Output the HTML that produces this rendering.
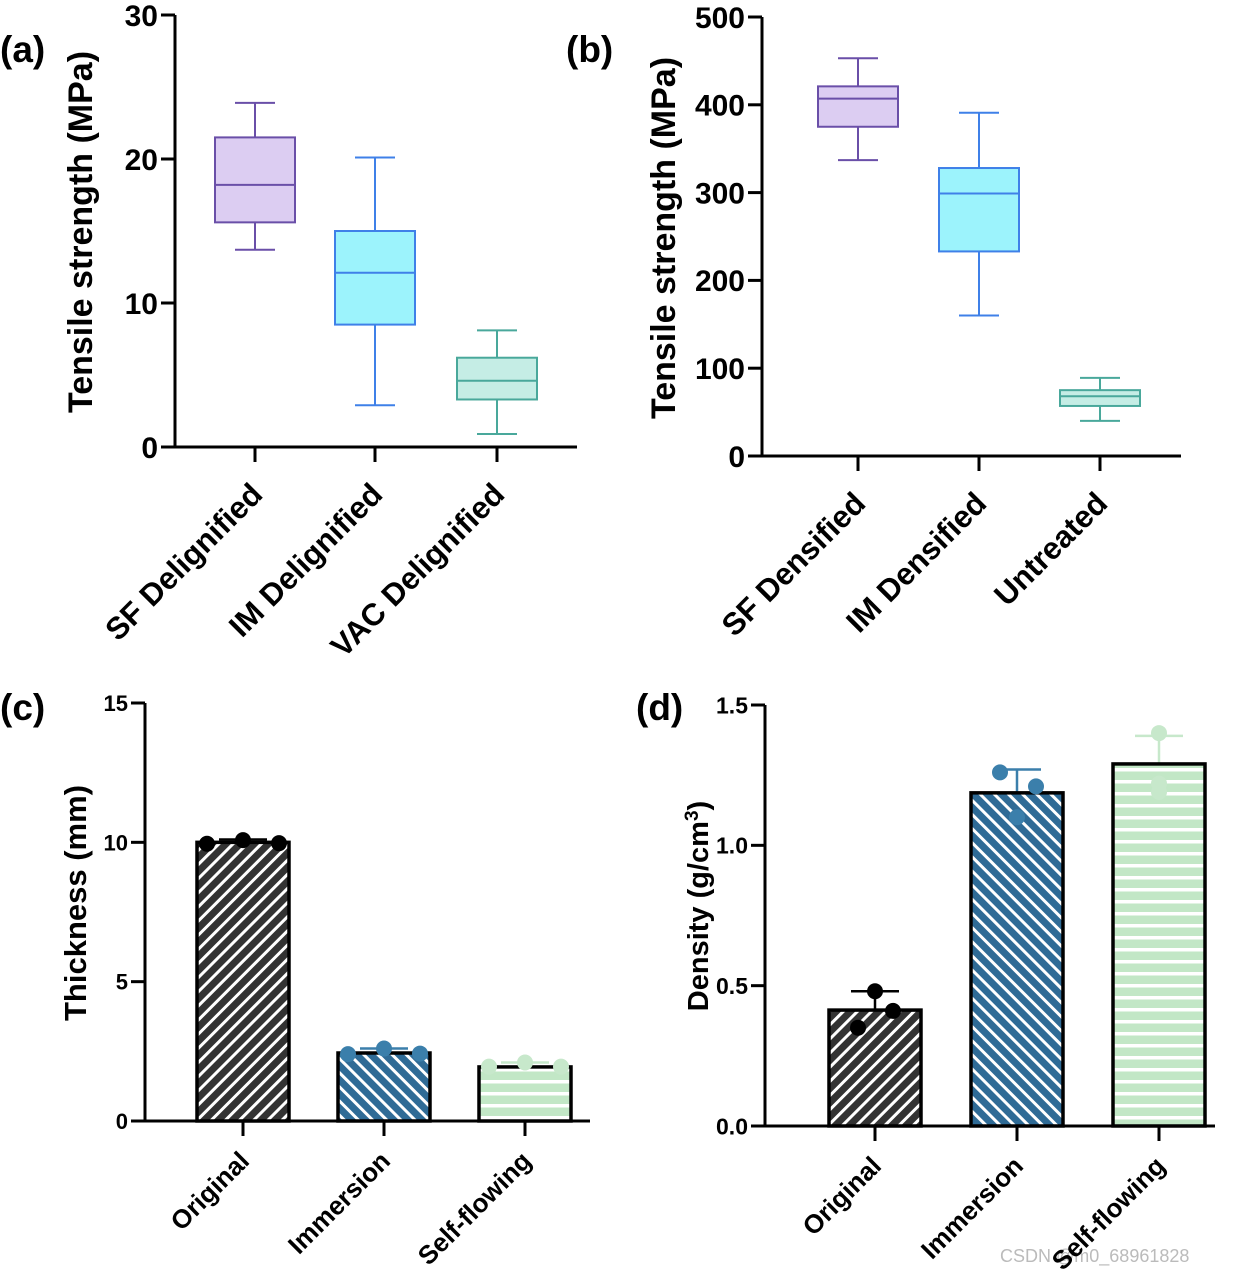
<!DOCTYPE html>
<html><head><meta charset="utf-8"><style>
body{margin:0;background:#fff}
svg{display:block;font-family:"Liberation Sans",Arial,sans-serif;font-weight:bold}
</style></head><body>
<svg id="s" width="1258" height="1278" viewBox="0 0 1258 1278" xmlns="http://www.w3.org/2000/svg">
<defs>
<pattern id="pO" patternUnits="userSpaceOnUse" width="10" height="10" patternTransform="rotate(45)"><rect width="10" height="10" fill="#333"/><rect x="0" width="3" height="10" fill="#fff"/></pattern>
<pattern id="pI" patternUnits="userSpaceOnUse" width="10" height="10" patternTransform="rotate(-45)"><rect width="10" height="10" fill="#2f6b96"/><rect x="0" width="3" height="10" fill="#fff"/></pattern>
<pattern id="pS" patternUnits="userSpaceOnUse" width="10" height="12"><rect width="10" height="12" fill="#c2e7c6"/><rect y="0" width="10" height="3.5" fill="#fff"/></pattern>
</defs>
<text x="0" y="62" font-size="37">(a)</text>
<text x="566" y="62" font-size="37">(b)</text>
<text x="0" y="720" font-size="37">(c)</text>
<text x="636" y="720" font-size="37">(d)</text>
<text x="1000" y="1262" font-size="18" font-weight="normal" fill="#bbb">CSDN @m0_68961828</text>
</svg>
<script>
const NS="http://www.w3.org/2000/svg";
const svg=document.getElementById('s');
function el(t,a,p){const e=document.createElementNS(NS,t);for(const k in a)e.setAttribute(k,a[k]);(p||svg).appendChild(e);return e;}

// Panel a data
const catsA=["SF Delignified","IM Delignified","VAC Delignified"];
const minA=[13.7,2.9,0.9], q1A=[15.6,8.5,3.3], medA=[18.2,12.1,4.6], q3A=[21.5,15.0,6.2], maxA=[23.9,20.1,8.1];
const ticksA=[0,10,20,30];
// Panel b data
const catsB=["SF Densified","IM Densified","Untreated"];
const minB=[337,160,40], q1B=[375,233,57], medB=[407,299,68], q3B=[421,328,75], maxB=[453,391,89];
const ticksB=[0,100,200,300,400,500];
// Panel c data
const catsC=["Original","Immersion","Self-flowing"];
const meanC=[10.0,2.44,1.94], errC=[10.1,2.6,2.1];
const ptsC=[[9.95,10.08,9.97],[2.4,2.6,2.42],[1.95,2.1,1.95]];
const ticksC=[0,5,10,15];
// Panel d data
const catsD=["Original","Immersion","Self-flowing"];
const meanD=[0.413,1.187,1.29], errD=[0.48,1.27,1.39];
const ptsD=[[0.48,0.35,0.41],[1.26,1.10,1.21],[1.40,1.22,1.19]];
const ticksD=[0,0.5,1.0,1.5];

const jitC=[[-36,0,36],[-36,0,36],[-36,0,36]];
const jitD=[[0,-17,18],[-17,0,19],[0,0,0]];

const boxFill=["#dccdf2","#9cf3fc","#c5ede5"], boxStroke=["#6a4fa8","#3f80e8","#49a89b"];
const barFill=["url(#pO)","url(#pI)","url(#pS)"], ptCol=["#000","#3b7fab","#c7e8cb"];

function axes(cfg){
  const {x0,x1,yTop,yBot,max,ticks,cats,cx,fs,cfs,title,tickFmt,name}=cfg;
  const Y=v=>yBot-(v/max)*(yBot-yTop);
  const g=el('g',{});
  
  
  el('line',{x1:x0,y1:yTop,x2:x0,y2:yBot,stroke:'#000','stroke-width':3},g);
  el('line',{x1:x0,y1:yBot,x2:x1,y2:yBot,stroke:'#000','stroke-width':3},g);
  ticks.forEach(t=>{
    el('line',{x1:x0-14,y1:Y(t),x2:x0,y2:Y(t),stroke:'#000','stroke-width':3},g);
    const tx=el('text',{x:x0-17,y:Y(t)+fs*0.36,'font-size':fs,'text-anchor':'end'},g);
    tx.textContent=tickFmt(t);
    
    
  });
  cats.forEach((c,i)=>{
    el('line',{x1:cx[i],y1:yBot,x2:cx[i],y2:yBot+15,stroke:'#000','stroke-width':3},g);
    const ax=cx[i]+cfs*0.3, ay=yBot+cfs*0.75+18+(cfg.labDy||0);
    const tx=el('text',{x:ax,y:ay,'font-size':cfs,'text-anchor':'end',transform:`rotate(-45 ${ax} ${ay})`},g);
    tx.textContent=c;
    
    
  });
  const ty=cfg.titleY||(yTop+yBot)/2, tx0=cfg.titleX;
  const tt=el('text',{x:tx0,y:ty,'font-size':cfg.tfs,'text-anchor':'middle',transform:`rotate(-90 ${tx0} ${ty})`},g);
  tt.innerHTML=title;
  
  
  return Y;
}

function boxes(Y,cx,w,mn,q1,md,q3,mx,name){
  cx.forEach((c,i)=>{
    const g=el('g',{});
    
    
    const s=boxStroke[i];
    el('line',{x1:c,y1:Y(mx[i]),x2:c,y2:Y(q3[i]),stroke:s,'stroke-width':2},g);
    el('line',{x1:c,y1:Y(q1[i]),x2:c,y2:Y(mn[i]),stroke:s,'stroke-width':2},g);
    el('line',{x1:c-20,y1:Y(mx[i]),x2:c+20,y2:Y(mx[i]),stroke:s,'stroke-width':2},g);
    el('line',{x1:c-20,y1:Y(mn[i]),x2:c+20,y2:Y(mn[i]),stroke:s,'stroke-width':2},g);
    el('rect',{x:c-w/2,y:Y(q3[i]),width:w,height:Y(q1[i])-Y(q3[i]),fill:boxFill[i],stroke:s,'stroke-width':2},g);
    el('line',{x1:c-w/2,y1:Y(md[i]),x2:c+w/2,y2:Y(md[i]),stroke:s,'stroke-width':2},g);
  });
}

function bars(Y,cx,w,mean,err,pts,jit,name){
  cx.forEach((c,i)=>{
    const g=el('g',{});
    
    
    const yb=Y(0);
    el('line',{x1:c,y1:Y(err[i]),x2:c,y2:Y(mean[i]),stroke:ptCol[i],'stroke-width':2.5},g);
    el('line',{x1:c-24,y1:Y(err[i]),x2:c+24,y2:Y(err[i]),stroke:ptCol[i],'stroke-width':2.5},g);
    el('rect',{x:c-w/2,y:Y(mean[i]),width:w,height:yb-Y(mean[i]),fill:barFill[i],stroke:'#000','stroke-width':3.5},g);
    pts[i].forEach((v,j)=>{
      const p=el('circle',{cx:c+jit[i][j],cy:Y(v),r:8,fill:ptCol[i]},g);
      
      
    });
  });
}

const cxA=[255,375,497];
const YA=axes({name:'panel-a',x0:175,x1:577,yTop:15,yBot:447,max:30,ticks:ticksA,cats:catsA,cx:cxA,fs:30,cfs:31,tfs:34,titleX:92,titleY:232,labDy:8,title:'Tensile strength (MPa)',tickFmt:t=>t});
boxes(YA,cxA,80,minA,q1A,medA,q3A,maxA,'panel-a');
const cxB=[858,979,1100];
const YB=axes({name:'panel-b',x0:762,x1:1181,yTop:17,yBot:456,max:500,ticks:ticksB,cats:catsB,cx:cxB,fs:30,cfs:31,tfs:34,titleX:675,titleY:238,labDy:8,title:'Tensile strength (MPa)',tickFmt:t=>t});
boxes(YB,cxB,80,minB,q1B,medB,q3B,maxB,'panel-b');
const cxC=[243,384,525];
const YC=axes({name:'panel-c',x0:145,x1:590,yTop:703,yBot:1121,max:15,ticks:ticksC,cats:catsC,cx:cxC,fs:22,cfs:26,tfs:31,titleX:86,titleY:903,labDy:4,title:'Thickness (mm)',tickFmt:t=>t});
bars(YC,cxC,92,meanC,errC,ptsC,jitC,'panel-c');
const cxD=[875,1017,1159];
const YD=axes({name:'panel-d',x0:765,x1:1215,yTop:705,yBot:1126,max:1.5,ticks:ticksD,cats:catsD,cx:cxD,fs:23,cfs:26,tfs:29,titleX:708,titleY:906,labDy:4,title:'Density (g/cm<tspan baseline-shift="super" font-size="19">3</tspan>)',tickFmt:t=>t.toFixed(1)});
bars(YD,cxD,92,meanD,errD,ptsD,jitD,'panel-d');
</script>
</body></html>
